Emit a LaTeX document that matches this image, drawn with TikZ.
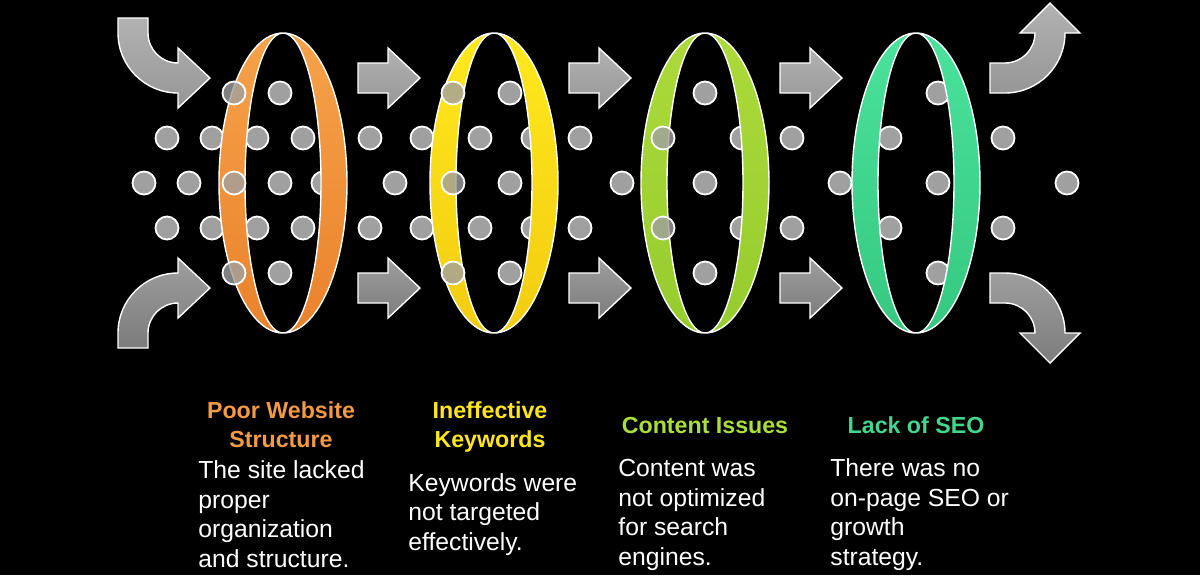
\documentclass[tikz,border=0pt]{standalone}
\usepackage{fontspec}
\setmainfont{Liberation Sans}
\definecolor{dotgray}{RGB}{160,160,160}
\definecolor{arrowA}{RGB}{178,178,178}
\definecolor{arrowB}{RGB}{150,150,150}
\definecolor{arrowC}{RGB}{158,158,158}
\definecolor{arrowD}{RGB}{124,124,124}
\definecolor{orangeA}{RGB}{246,162,74}
\definecolor{orangeB}{RGB}{234,130,44}
\definecolor{yellowA}{RGB}{255,232,30}
\definecolor{yellowB}{RGB}{242,204,16}
\definecolor{limeA}{RGB}{172,218,58}
\definecolor{limeB}{RGB}{150,204,46}
\definecolor{greenA}{RGB}{74,226,156}
\definecolor{greenB}{RGB}{54,200,128}
\definecolor{orangeT}{RGB}{243,154,69}
\definecolor{yellowT}{RGB}{255,230,26}
\definecolor{limeT}{RGB}{169,222,60}
\definecolor{greenT}{RGB}{67,214,143}
\begin{document}
\begin{tikzpicture}[x=0.5pt,y=-0.5pt,
  dot/.style={fill=dotgray,draw=white,line width=0.9pt},
  band/.style={even odd rule,draw=white,line width=0.7pt},
  grayarrow/.style={draw=white,line width=0.7pt},
  head/.style={font=\fontsize{11.6}{14.4}\selectfont\bfseries,align=center,anchor=base,inner sep=0pt},
  body/.style={font=\fontsize{12.35}{14.75}\selectfont,text=white,align=left,anchor=base west,inner sep=0pt}]
  \useasboundingbox (0,0) rectangle (1200,575);
  \fill[black] (0,0) rectangle (1200,575);
  % dots passing behind the rings
  \foreach \p in {(167,138),(212,138),(257,138),(303,138),(144,183),(189,183),(280,183),(323,183),
    (167,228),(212,228),(257,228),(303,228),(280,93),(280,273),
    (370,138),(422,138),(370,228),(422,228),(395,183),(510,93),(480,138),(510,183),(480,228),(510,273),
    (533,138),(533,228),(580,138),(580,228),(622,183),
    (705,93),(705,183),(705,273),(742,138),(742,228),(792,138),(792,228),
    (840,183),(890,138),(890,228),(938,93),(938,183),(938,273),(1003,138),(1003,228),(1067,183)}
    \draw[dot] \p circle[radius=11.5];
  % rings
  \foreach \cx/\ct/\cb in {283/orangeA/orangeB,494/yellowA/yellowB,705/limeA/limeB,916/greenA/greenB}
    \path[band,top color=\ct,bottom color=\cb] (\cx,183) ellipse[x radius=64,y radius=150]
      (\cx,183) ellipse[x radius=38,y radius=150];
  % dots in front of the bands
  \foreach \p in {(234,93),(234,183),(234,273),(453,93),(453,183),(453,273),(663,138),(663,228)}
    \draw[dot,fill opacity=0.8] \p circle[radius=11.5];
  % straight arrows
  \foreach \x in {358,569,780} {
    \path[grayarrow,top color=arrowA,bottom color=arrowB] (\x,63) -- ++(30,0) -- ++(0,-15) -- ++(32,30)
      -- ++(-32,30) -- ++(0,-15) -- ++(-30,0) -- cycle;
    \path[grayarrow,top color=arrowC,bottom color=arrowD] (\x,273) -- ++(30,0) -- ++(0,-15) -- ++(32,30)
      -- ++(-32,30) -- ++(0,-15) -- ++(-30,0) -- cycle;
  }
  % curved arrows in
  \path[grayarrow,top color=arrowA,bottom color=arrowB] (118,18) -- (148,18) -- (148,33)
    arc[start angle=180,end angle=90,radius=30] -- (178,48) -- (210,78) -- (178,108) -- (178,93)
    arc[start angle=90,end angle=180,radius=60] -- cycle;
  \path[grayarrow,top color=arrowC,bottom color=arrowD] (118,348) -- (148,348) -- (148,333)
    arc[start angle=180,end angle=270,radius=30] -- (178,318) -- (210,288) -- (178,258) -- (178,273)
    arc[start angle=270,end angle=180,radius=60] -- cycle;
  % curved arrows out
  \path[grayarrow,top color=arrowA,bottom color=arrowB] (990,63) -- (1005,63)
    arc[start angle=90,end angle=0,radius=30] -- (1020,33) -- (1050,3) -- (1080,33) -- (1065,33)
    arc[start angle=0,end angle=90,radius=60] -- (990,93) -- cycle;
  \path[grayarrow,top color=arrowC,bottom color=arrowD] (990,303) -- (1005,303)
    arc[start angle=270,end angle=360,radius=30] -- (1020,333) -- (1050,363) -- (1080,333) -- (1065,333)
    arc[start angle=360,end angle=270,radius=60] -- (990,273) -- cycle;
  % labels (base = last line)
  \node[head,text=orangeT] (t1) at (281,447) {Poor Website\\Structure};
  \node[head,text=yellowT] (t2) at (490,447) {Ineffective\\Keywords};
  \node[head,text=limeT] (t3) at (705,433) {Content Issues};
  \node[head,text=greenT] (t4) at (916,433) {Lack of SEO};
  \node[body] (d1) at (198,567) {The site lacked\\proper\\organization\\and structure.};
  \node[body] (d2) at (408,550) {Keywords were\\not targeted\\effectively.};
  \node[body] (d3) at (618,565) {Content was\\not optimized\\for search\\engines.};
  \node[body] (d4) at (830,565) {There was no\\on-page SEO or\\growth\\strategy.};
\end{tikzpicture}
\end{document}
